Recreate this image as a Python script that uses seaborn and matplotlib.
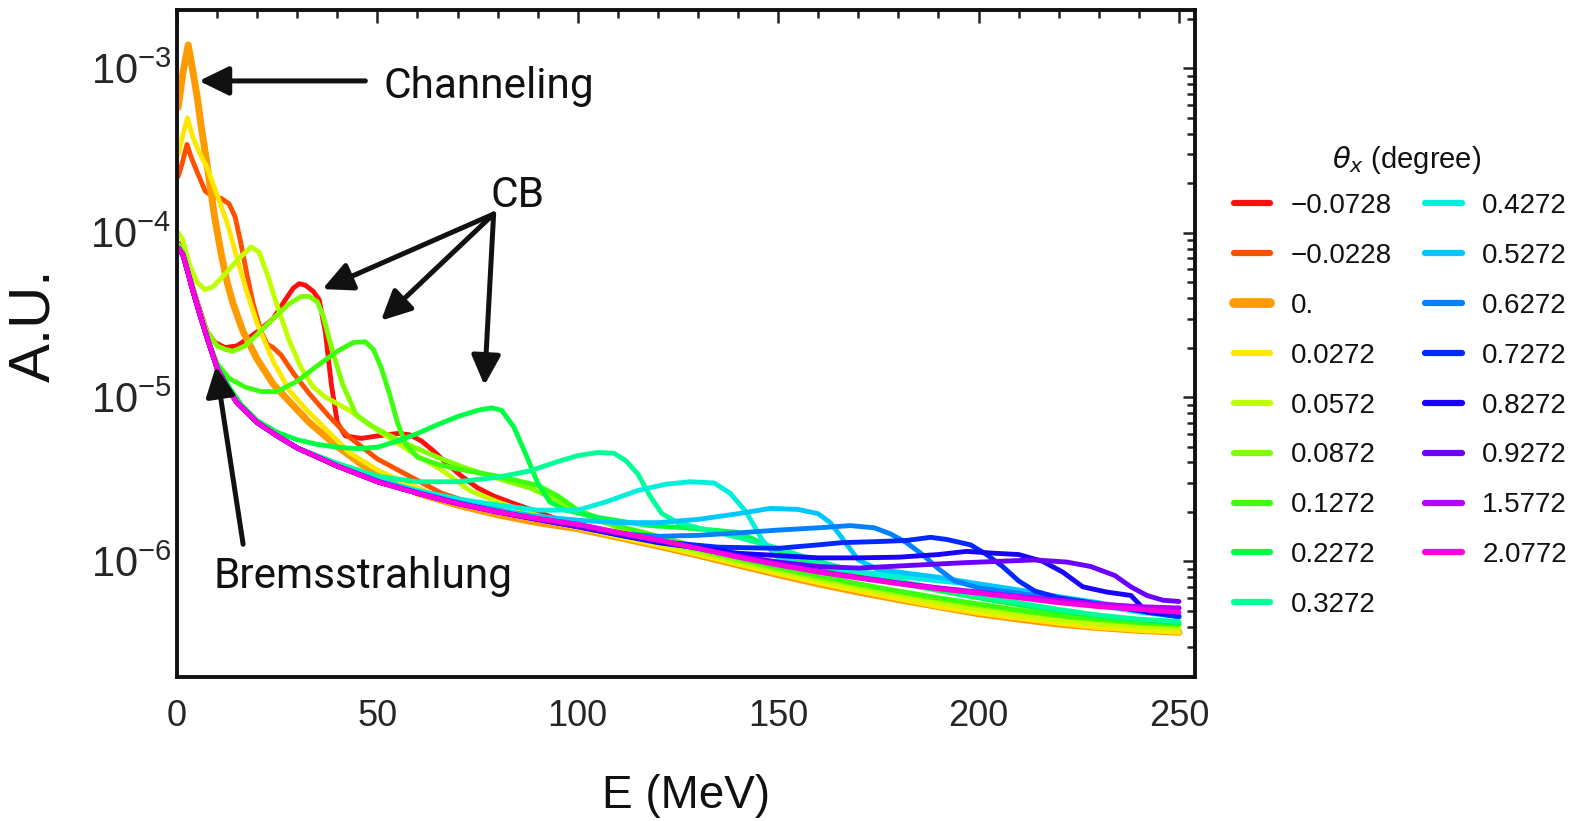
import matplotlib
matplotlib.use("Agg")
import matplotlib.pyplot as plt
from matplotlib import font_manager
from matplotlib.font_manager import FontProperties
from matplotlib.lines import Line2D
from matplotlib.colors import to_hex
from matplotlib.ticker import LogLocator, MultipleLocator, NullFormatter
import pandas as pd
import seaborn as sns

# ---------------- data ----------------
THETA_LABELS = ["\u22120.0728", "\u22120.0228", "0.", "0.0272", "0.0572", "0.0872",
                "0.1272", "0.2272", "0.3272", "0.4272", "0.5272", "0.6272",
                "0.7272", "0.8272", "0.9272", "1.5772", "2.0772"]
COLORS = ["#ff1010", "#ff5000", "#ff9a00", "#ffe800", "#c0ff00", "#80ff00",
          "#3cff10", "#00ff44", "#00ff96", "#00f0dc", "#00c8ff", "#0082ff",
          "#0028ff", "#1a00ff", "#6c00ff", "#b400ff", "#ff00e0"]

# common bremsstrahlung part at low energy (E MeV, intensity)
BREMS_LOW = [(0.5, 8.0e-5), (1.5, 7.3e-5), (2.5, 6.0e-5), (4, 4.4e-5), (5.5, 3.3e-5),
             (7.5, 2.3e-5), (10, 1.5e-5), (12.5, 1.15e-5), (15, 9.2e-6), (20, 7.0e-6),
             (25, 5.8e-6), (30, 4.9e-6), (40, 3.8e-6)]

S_M0728 = [(0.5, 8.6e-5), (1.5, 7.7e-5), (2.5, 6.4e-5), (4, 4.6e-5), (5.5, 3.5e-5), (7.5, 2.5e-5),
           (9.5, 2.15e-5), (12, 2.0e-5), (15, 2.05e-5), (18, 2.3e-5), (21, 2.6e-5), (24, 3.0e-5),
           (27, 3.9e-5), (29, 4.6e-5), (30.5, 4.9e-5), (32, 4.8e-5), (34, 4.4e-5), (35.5, 3.9e-5),
           (37, 2.5e-5), (38.5, 1.2e-5), (40, 7.0e-6), (42, 5.8e-6), (46, 5.6e-6), (50, 5.8e-6),
           (55, 6.0e-6), (58, 5.9e-6), (61, 5.4e-6), (64, 4.7e-6), (67, 4.0e-6), (71, 3.3e-6),
           (75, 2.8e-6), (79, 2.5e-6), (84, 2.25e-6), (90, 2.0e-6), (100, 1.62e-6), (110, 1.42e-6),
           (120, 1.26e-6), (130, 1.1e-6), (140, 9.6e-7), (150, 8.4e-7), (160, 7.4e-7), (170, 6.6e-7),
           (180, 5.9e-7), (190, 5.3e-7), (200, 4.8e-7), (210, 4.45e-7), (220, 4.15e-7),
           (230, 3.95e-7), (240, 3.8e-7), (250, 3.7e-7)]
S_M0228 = [(0.3, 2.2e-4), (1.2, 2.6e-4), (2.5, 3.45e-4), (3.5, 2.9e-4), (5, 2.35e-4), (7, 1.8e-4),
           (9, 1.65e-4), (11, 1.62e-4), (13, 1.5e-4), (14.5, 1.25e-4), (16, 8.5e-5), (17.5, 5.5e-5),
           (19, 3.7e-5), (21, 2.5e-5), (22.5, 2.1e-5), (24, 2.0e-5), (26, 1.8e-5), (29, 1.4e-5),
           (33, 1.05e-5), (38, 7.6e-6), (43, 5.7e-6), (50, 4.2e-6), (58, 3.3e-6), (66, 2.6e-6),
           (75, 2.2e-6), (85, 1.95e-6), (95, 1.75e-6), (100, 1.63e-6), (110, 1.43e-6), (120, 1.27e-6),
           (130, 1.12e-6), (140, 9.8e-7), (150, 8.6e-7), (160, 7.6e-7), (170, 6.8e-7), (180, 6.0e-7),
           (190, 5.4e-7), (200, 4.9e-7), (210, 4.55e-7), (220, 4.25e-7), (230, 4.05e-7),
           (240, 3.9e-7), (250, 3.8e-7)]
S_0000 = [(0.3, 5.8e-4), (1.5, 9.5e-4), (2.8, 1.39e-3), (4, 9.5e-4), (5, 6.8e-4), (6, 4.5e-4),
          (7.3, 2.8e-4), (8.5, 1.75e-4), (9.5, 1.2e-4), (11, 7.5e-5), (12.5, 5.0e-5), (14, 3.7e-5),
          (16.5, 2.5e-5), (20, 1.7e-5), (24, 1.2e-5), (27, 1.0e-5), (33, 7.0e-6), (40, 5.0e-6),
          (46, 3.9e-6), (54, 3.1e-6), (60, 2.6e-6), (70, 2.2e-6), (80, 1.92e-6), (90, 1.72e-6),
          (100, 1.58e-6), (110, 1.4e-6), (120, 1.24e-6), (130, 1.09e-6), (140, 9.5e-7), (150, 8.3e-7),
          (160, 7.3e-7), (170, 6.5e-7), (180, 5.85e-7), (190, 5.3e-7), (200, 4.8e-7), (210, 4.45e-7),
          (220, 4.15e-7), (230, 3.95e-7), (240, 3.8e-7), (250, 3.7e-7)]
S_0272 = [(0.3, 3.0e-4), (1.3, 3.8e-4), (2.6, 5.0e-4), (4, 3.8e-4), (5.5, 3.1e-4), (7.5, 2.5e-4),
          (10, 1.7e-4), (12.5, 1.15e-4), (15, 7.0e-5), (17.5, 4.3e-5), (20, 2.8e-5), (24, 1.65e-5),
          (28, 1.1e-5), (32, 8.5e-6), (36, 6.8e-6), (43, 4.6e-6), (50, 3.6e-6), (57, 3.0e-6),
          (65, 2.5e-6), (75, 2.15e-6), (85, 1.9e-6), (95, 1.7e-6), (100, 1.6e-6), (110, 1.41e-6),
          (120, 1.25e-6), (130, 1.1e-6), (140, 9.6e-7), (150, 8.4e-7), (160, 7.4e-7), (170, 6.6e-7),
          (180, 5.9e-7), (190, 5.3e-7), (200, 4.85e-7), (210, 4.5e-7), (220, 4.2e-7), (230, 3.95e-7),
          (240, 3.8e-7), (250, 3.7e-7)]
S_0572 = [(0.3, 1.0e-4), (1.5, 9.0e-5), (3, 6.5e-5), (5, 5.0e-5), (7, 4.5e-5), (9, 4.7e-5),
          (12, 5.6e-5), (15, 6.8e-5), (18.5, 8.2e-5), (20.5, 7.6e-5), (22.5, 5.6e-5), (25, 3.6e-5),
          (28, 2.2e-5), (31, 1.5e-5), (34, 1.15e-5), (37, 1.0e-5), (43, 8.3e-6), (50, 6.3e-6),
          (58, 4.7e-6), (66, 3.6e-6), (73, 2.7e-6), (80, 2.3e-6), (90, 1.9e-6), (100, 1.65e-6),
          (110, 1.45e-6), (120, 1.29e-6), (130, 1.13e-6), (140, 9.9e-7), (150, 8.7e-7), (160, 7.7e-7),
          (170, 6.9e-7), (180, 6.2e-7), (190, 5.6e-7), (200, 5.1e-7), (210, 4.7e-7), (220, 4.4e-7),
          (230, 4.15e-7), (240, 4.0e-7), (250, 3.9e-7)]
S_0872 = [(0.3, 8.5e-5), (1.5, 7.7e-5), (2.5, 6.3e-5), (4, 4.6e-5), (5.5, 3.4e-5), (7.5, 2.5e-5),
          (10, 2.05e-5), (12, 1.95e-5), (14, 1.9e-5), (17, 2.05e-5), (20, 2.4e-5), (24, 3.0e-5),
          (28, 3.7e-5), (31, 4.1e-5), (33, 4.1e-5), (35, 3.8e-5), (36.5, 3.1e-5), (38.8, 1.9e-5),
          (41.3, 1.2e-5), (44.7, 7.8e-6), (48, 6.8e-6), (52, 6.0e-6), (58, 5.1e-6), (65, 4.3e-6),
          (72, 3.7e-6), (80, 3.2e-6), (88, 2.8e-6), (95, 2.35e-6), (100, 2.0e-6), (110, 1.6e-6),
          (120, 1.35e-6), (130, 1.17e-6), (140, 1.02e-6), (150, 9.0e-7), (160, 8.0e-7), (170, 7.2e-7),
          (180, 6.5e-7), (190, 5.9e-7), (200, 5.4e-7), (210, 5.0e-7), (220, 4.65e-7), (230, 4.4e-7),
          (240, 4.2e-7), (250, 4.1e-7)]
S_1272 = [(0.3, 8.2e-5), (1.5, 7.5e-5), (2.5, 6.1e-5), (4, 4.5e-5), (5.5, 3.3e-5), (7.5, 2.3e-5),
          (10, 1.6e-5), (13, 1.3e-5), (17, 1.15e-5), (21, 1.08e-5), (25, 1.08e-5), (30, 1.25e-5),
          (35, 1.55e-5), (40, 1.9e-5), (44, 2.15e-5), (47, 2.17e-5), (49, 1.95e-5), (51, 1.5e-5),
          (53, 1.05e-5), (55, 7.0e-6), (57, 5.2e-6), (60, 4.3e-6), (65, 3.9e-6), (70, 3.65e-6),
          (80, 3.3e-6), (90, 2.9e-6), (95, 2.5e-6), (100, 2.05e-6), (110, 1.65e-6), (120, 1.42e-6),
          (130, 1.22e-6), (140, 1.05e-6), (150, 9.2e-7), (160, 8.2e-7), (170, 7.3e-7), (180, 6.6e-7),
          (190, 6.0e-7), (200, 5.5e-7), (210, 5.05e-7), (220, 4.7e-7), (230, 4.45e-7), (240, 4.25e-7),
          (250, 4.15e-7)]
S_2272 = [(0.3, 8.0e-5), (1.5, 7.4e-5), (2.5, 6.1e-5), (4, 4.5e-5), (5.5, 3.3e-5), (7.5, 2.3e-5),
          (10, 1.55e-5), (13, 1.15e-5), (16, 9.0e-6), (20, 7.2e-6), (25, 6.1e-6), (30, 5.5e-6),
          (35, 5.15e-6), (40, 4.95e-6), (45, 4.85e-6), (50, 4.95e-6), (55, 5.4e-6), (60, 6.0e-6),
          (65, 6.8e-6), (70, 7.6e-6), (75, 8.3e-6), (78.5, 8.6e-6), (81, 8.3e-6), (84, 6.6e-6),
          (87, 4.5e-6), (90, 3.0e-6), (93, 2.3e-6), (97, 2.05e-6), (105, 1.85e-6), (117, 1.66e-6),
          (130, 1.58e-6), (140, 1.5e-6), (147, 1.26e-6), (155, 1.02e-6), (165, 8.6e-7), (175, 7.7e-7),
          (185, 7.0e-7), (195, 6.3e-7), (205, 5.7e-7), (215, 5.2e-7), (225, 4.8e-7), (235, 4.5e-7),
          (245, 4.3e-7), (250, 4.2e-7)]
S_3272 = BREMS_LOW[:-1] + [
          (40, 3.95e-6), (50, 3.3e-6), (60, 3.05e-6), (70, 3.05e-6), (80, 3.25e-6), (88, 3.55e-6),
          (95, 4.05e-6), (100, 4.4e-6), (105, 4.6e-6), (109, 4.55e-6), (112, 4.1e-6), (115, 3.4e-6),
          (118, 2.5e-6), (121, 1.95e-6), (125, 1.72e-6), (130, 1.6e-6), (140, 1.4e-6), (150, 1.2e-6),
          (160, 1.0e-6), (170, 8.6e-7), (180, 7.6e-7), (190, 6.8e-7), (200, 6.1e-7), (210, 5.6e-7),
          (220, 5.1e-7), (230, 4.7e-7), (240, 4.45e-7), (250, 4.3e-7)]
S_4272 = BREMS_LOW + [
          (50, 3.15e-6), (60, 2.7e-6), (70, 2.4e-6), (80, 2.2e-6), (90, 2.05e-6), (100, 2.05e-6),
          (107, 2.3e-6), (115, 2.7e-6), (122, 2.95e-6), (128, 3.05e-6), (134, 3.0e-6), (138, 2.6e-6),
          (142, 2.0e-6), (146, 1.35e-6), (150, 1.05e-6), (155, 9.7e-7), (160, 9.4e-7), (170, 8.7e-7),
          (180, 8.1e-7), (190, 7.6e-7), (200, 7.2e-7), (210, 6.5e-7), (220, 5.9e-7), (230, 5.4e-7),
          (240, 4.9e-7), (250, 4.6e-7)]
S_5272 = BREMS_LOW + [
          (50, 3.1e-6), (60, 2.65e-6), (70, 2.3e-6), (80, 2.05e-6), (90, 1.88e-6), (100, 1.78e-6),
          (110, 1.72e-6), (120, 1.72e-6), (130, 1.8e-6), (140, 1.95e-6), (148, 2.1e-6), (155, 2.07e-6),
          (160, 1.95e-6), (163, 1.72e-6), (166, 1.38e-6), (170, 1.02e-6), (175, 8.9e-7), (180, 8.6e-7),
          (190, 8.0e-7), (200, 7.3e-7), (210, 6.7e-7), (220, 6.1e-7), (230, 5.6e-7), (240, 5.1e-7),
          (250, 4.6e-7)]
S_6272 = BREMS_LOW + [
          (50, 3.08e-6), (60, 2.62e-6), (70, 2.28e-6), (80, 2.02e-6), (90, 1.82e-6), (100, 1.65e-6),
          (110, 1.48e-6), (120, 1.42e-6), (130, 1.44e-6), (140, 1.49e-6), (150, 1.55e-6), (160, 1.6e-6),
          (168, 1.65e-6), (174, 1.6e-6), (178, 1.47e-6), (182, 1.3e-6), (186, 1.1e-6), (190, 9.0e-7),
          (194, 7.6e-7), (200, 6.9e-7), (210, 6.4e-7), (220, 5.9e-7), (230, 5.5e-7), (240, 5.1e-7),
          (250, 4.7e-7)]
S_7272 = BREMS_LOW + [
          (50, 3.06e-6), (60, 2.6e-6), (70, 2.26e-6), (80, 2.0e-6), (90, 1.8e-6), (100, 1.63e-6),
          (110, 1.45e-6), (120, 1.32e-6), (135, 1.22e-6), (150, 1.2e-6), (160, 1.26e-6), (166, 1.3e-6),
          (175, 1.32e-6), (182, 1.34e-6), (188, 1.4e-6), (192, 1.36e-6), (198, 1.26e-6), (202, 1.1e-6),
          (206, 9.3e-7), (210, 7.6e-7), (214, 6.6e-7), (220, 6.0e-7), (230, 5.5e-7), (240, 5.0e-7),
          (250, 4.6e-7)]
S_8272 = BREMS_LOW + [
          (50, 3.05e-6), (60, 2.6e-6), (70, 2.25e-6), (80, 2.0e-6), (90, 1.8e-6), (100, 1.62e-6),
          (120, 1.3e-6), (140, 1.12e-6), (160, 1.05e-6), (170, 1.05e-6), (180, 1.06e-6), (190, 1.1e-6),
          (197, 1.15e-6), (204, 1.12e-6), (210, 1.1e-6), (216, 1.0e-6), (221, 8.6e-7), (226, 7.0e-7),
          (232, 6.5e-7), (238, 6.2e-7), (242, 4.9e-7), (246, 4.8e-7), (250, 5.2e-7)]
S_9272 = BREMS_LOW + [
          (50, 3.05e-6), (60, 2.6e-6), (70, 2.25e-6), (80, 2.0e-6), (90, 1.8e-6), (100, 1.63e-6),
          (115, 1.4e-6), (130, 1.2e-6), (140, 1.08e-6), (150, 9.9e-7), (160, 9.3e-7), (170, 9.1e-7),
          (185, 9.5e-7), (196, 9.8e-7), (205, 1.0e-6), (214, 1.02e-6), (222, 9.9e-7), (228, 9.3e-7),
          (234, 8.2e-7), (238, 7.0e-7), (242, 6.2e-7), (246, 5.8e-7), (250, 5.7e-7)]
S_15772 = BREMS_LOW + [
          (50, 3.05e-6), (60, 2.6e-6), (70, 2.25e-6), (80, 2.0e-6), (90, 1.82e-6), (100, 1.68e-6),
          (110, 1.5e-6), (120, 1.35e-6), (130, 1.2e-6), (140, 1.07e-6), (150, 9.6e-7), (160, 8.7e-7),
          (170, 8.0e-7), (180, 7.4e-7), (190, 6.9e-7), (200, 6.5e-7), (210, 6.1e-7), (220, 5.8e-7),
          (230, 5.5e-7), (240, 5.3e-7), (250, 5.2e-7)]
S_20772 = BREMS_LOW + [
          (50, 3.05e-6), (60, 2.6e-6), (70, 2.25e-6), (80, 2.0e-6), (90, 1.82e-6), (100, 1.68e-6),
          (110, 1.5e-6), (120, 1.35e-6), (130, 1.2e-6), (140, 1.06e-6), (150, 9.5e-7), (160, 8.6e-7),
          (170, 7.9e-7), (180, 7.3e-7), (190, 6.8e-7), (200, 6.4e-7), (210, 6.0e-7), (220, 5.6e-7),
          (230, 5.3e-7), (240, 5.1e-7), (250, 4.9e-7)]

SERIES = [S_M0728, S_M0228, S_0000, S_0272, S_0572, S_0872, S_1272, S_2272, S_3272,
          S_4272, S_5272, S_6272, S_7272, S_8272, S_9272, S_15772, S_20772]

X_TICKS = [0, 50, 100, 150, 200, 250]

# ---------------- style ----------------
sns.set_theme(style="white")


def _has_font(name):
    try:
        font_manager.findfont(FontProperties(family=name), fallback_to_default=False)
        return True
    except Exception:
        return False


BASE = "Liberation Sans" if _has_font("Liberation Sans") else "DejaVu Sans"
NARROW = "Liberation Sans Narrow" if _has_font("Liberation Sans Narrow") else BASE
ANNOT = "Roboto" if _has_font("Roboto") else BASE
plt.rcParams["font.family"] = [BASE, "DejaVu Sans"]
plt.rcParams["axes.unicode_minus"] = True

rows = []
for lab, pts in zip(THETA_LABELS, SERIES):
    for e, v in pts:
        rows.append((lab, e, v))
df = pd.DataFrame(rows, columns=["theta", "E", "I"])

fig = plt.figure(figsize=(15.8, 8.21), dpi=100)
ax = fig.add_axes([177 / 1580, 1 - 677 / 821, 1018 / 1580, 667 / 821])
sns.lineplot(data=df, x="E", y="I", hue="theta", hue_order=THETA_LABELS,
             palette=COLORS, estimator=None, linewidth=3.5, legend=False, ax=ax)
for ln in ax.lines:
    ln.set_solid_joinstyle("round")
    ln.set_solid_capstyle("round")
    if to_hex(ln.get_color()) == COLORS[2]:
        ln.set_linewidth(5.0)

ax.set_yscale("log")
ax.set_xlim(0, 254)
ax.set_ylim(10 ** -6.704, 10 ** -2.644)

ax.xaxis.set_major_locator(plt.FixedLocator(X_TICKS))
ax.xaxis.set_minor_locator(MultipleLocator(10))
ax.yaxis.set_major_locator(LogLocator(base=10, numticks=20))
ax.yaxis.set_minor_locator(LogLocator(base=10, subs=range(2, 10), numticks=20))
ax.yaxis.set_minor_formatter(NullFormatter())

ax.tick_params(which="both", direction="in", top=True, right=True, width=1.8, color="#222222")
ax.tick_params(which="major", length=9)
ax.tick_params(which="minor", length=5.5)
ax.tick_params(axis="x", which="major", pad=16, labelsize=30 if NARROW != BASE else 26)
ax.tick_params(axis="y", which="major", pad=4, labelsize=30)
for lab in ax.get_xticklabels():
    lab.set_fontfamily(NARROW)
for sp in ax.spines.values():
    sp.set_linewidth(2.8)
    sp.set_color("#111111")

ax.set_xlabel("E (MeV)", fontsize=36 if NARROW != BASE else 33, family=NARROW, color="#111111")
ax.xaxis.label.set_va("center")
ax.xaxis.set_label_coords(0.5, (677 - 796) / 667)
ax.set_ylabel("A.U.", fontsize=42, color="#111111")
ax.yaxis.label.set_va("center")
ax.yaxis.set_label_coords((34 - 177) / 1018, (677 - 325) / 667)

# ---------------- annotations ----------------
arrow = dict(arrowstyle="-|>,head_length=0.45,head_width=0.22", color="#111111",
             lw=3.6, mutation_scale=40, shrinkA=0, shrinkB=0)
txt = dict(fontsize=30.5, family=ANNOT, color="#111111", ha="left", va="baseline")
ax.annotate("", xy=(5.5, 8.4e-4), xytext=(47, 8.4e-4), arrowprops=arrow)
ax.text(51.6, 6.6e-4, "Channeling", **txt)
ax.text(78.3, 1.44e-4, "CB", **txt)
for tip in [(36.3, 4.54e-5), (50.9, 2.92e-5), (76.7, 1.18e-5)]:
    ax.annotate("", xy=tip, xytext=(79, 1.30e-4), arrowprops=arrow)
ax.text(9.0, 6.9e-7, "Bremsstrahlung", **txt)
ax.annotate("", xy=(9.7, 1.54e-5), xytext=(16.5, 1.27e-6), arrowprops=arrow)

# ---------------- legend ----------------
handles = [Line2D([], [], color=c, lw=(7 if i == 2 else 4.5)) for i, c in enumerate(COLORS)]
leg = fig.legend(handles, THETA_LABELS, loc="upper left",
                 bbox_to_anchor=(1234 / 1580, 1 - 193 / 821), ncol=2, frameon=False,
                 fontsize=20, handlelength=1.3, handletextpad=0.75, columnspacing=1.2,
                 labelspacing=0.86, borderpad=0, borderaxespad=0)
for t in leg.get_texts():
    t.set_color("#111111")
fig.text(1407 / 1580, 1 - 160 / 821, "$\\theta_x$ (degree)", ha="center", va="center",
         fontsize=21, color="#111111")

fig.savefig("out.png", dpi=100)
